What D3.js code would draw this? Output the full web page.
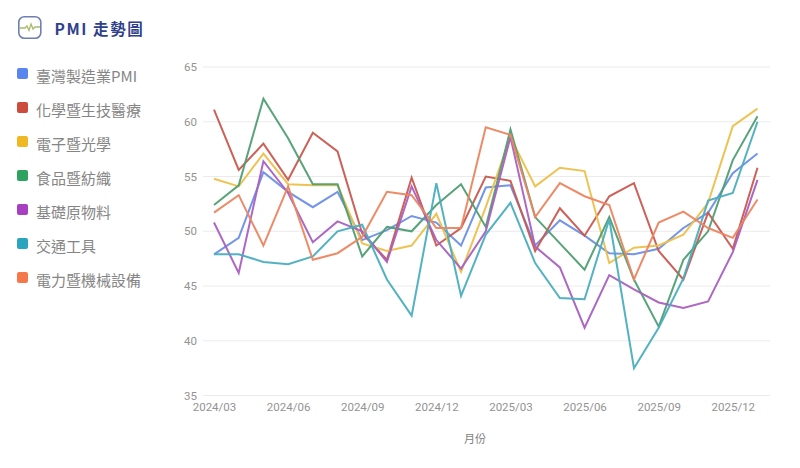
<!DOCTYPE html>
<html>
<head>
<meta charset="utf-8">
<script src="https://cdn.jsdelivr.net/npm/d3@7"></script>
<style>
  html, body { margin: 0; padding: 0; background: #fff; }
  svg { display: block; }
  text { font-family: Roboto, "Noto Sans CJK TC", sans-serif; }
  .legend text { font-family: "Noto Sans CJK TC", sans-serif; font-size: 15px; fill: #858585; }
  .tick text { font-size: 11.5px; fill: #939393; }
</style>
</head>
<body>
<div id="chart"></div>
<script>
var months = ["2024/03","2024/04","2024/05","2024/06","2024/07","2024/08","2024/09","2024/10","2024/11","2024/12",
  "2025/01","2025/02","2025/03","2025/04","2025/05","2025/06","2025/07","2025/08","2025/09","2025/10","2025/11","2025/12","2026/01"];
var tickMonths = ["2024/03","2024/06","2024/09","2024/12","2025/03","2025/06","2025/09","2025/12"];
var yTicks = [35, 40, 45, 50, 55, 60, 65];

var names = ["臺灣製造業PMI","化學暨生技醫療","電子暨光學","食品暨紡織","基礎原物料","交通工具","電力暨機械設備"];
var swatchColors = ["#5b85ee","#cc4b3d","#f0b923","#2ea35f","#a63fc0","#2aa5c0","#f5774a"];
var lineColors = ["#6b8fe6","#c8594f","#edc04a","#4f9e72","#a860c0","#4aaebf","#ec8560"];

var pmi = [47.9,49.4,55.4,53.6,52.2,53.6,49.2,50.1,51.4,50.8,48.7,54.0,54.2,48.7,51.0,49.6,48.0,47.9,48.4,50.3,51.7,55.3,57.1];
var chem = [61.1,55.6,58.0,54.7,59.0,57.3,49.8,47.4,54.9,48.7,50.3,55.0,54.6,48.2,52.1,49.6,53.2,54.4,48.2,45.6,51.7,48.4,55.8];
var elec = [54.8,54.1,57.1,54.3,54.2,54.2,48.9,48.2,48.7,51.6,46.3,52.2,58.6,54.1,55.8,55.5,47.1,48.5,48.7,49.7,52.6,59.6,61.2];
var food = [52.4,54.2,62.1,58.5,54.3,54.3,47.7,50.4,50.0,52.4,54.3,50.4,59.3,51.3,48.9,46.5,51.3,45.6,41.3,47.4,50.0,56.5,60.5];
var basic = [50.8,46.2,56.4,53.5,49.0,50.9,50.0,47.2,54.1,49.2,46.6,50.0,58.6,48.6,46.7,41.2,46.0,44.7,43.5,43.0,43.6,48.1,54.7];
var trans = [47.9,47.9,47.2,47.0,47.7,50.0,50.6,45.6,42.3,54.4,44.1,49.7,52.6,47.1,43.9,43.8,51.1,37.5,41.2,45.7,52.8,53.5,60.0];
var power = [51.7,53.3,48.7,54.1,47.4,48.0,49.5,53.6,53.3,50.3,50.3,59.5,58.8,51.3,54.4,53.2,52.4,45.6,50.8,51.8,50.3,49.4,52.9];
var series = [pmi, chem, elec, food, basic, trans, power];

var width = 800, height = 468;

var svg = d3.select("#chart").append("svg")
  .attr("width", width)
  .attr("height", height);

var x = d3.scalePoint().domain(months).range([214, 757.5]);
var y = d3.scaleLinear().domain([35, 65]).range([395.6, 67]);

// ---- header icon and title
var icon = svg.append("g").attr("transform", "translate(18,16)");
icon.append("rect")
  .attr("x", 0.8).attr("y", 0.8)
  .attr("width", 22).attr("height", 21.5).attr("rx", 5.5)
  .attr("fill", "none").attr("stroke", "#6f7fb5").attr("stroke-width", 1.6);
icon.append("path")
  .attr("d", "M1,12 H7 L9,10 L11,14.5 L13,8 L15,13 L17,11 H22")
  .attr("fill", "none").attr("stroke", "#a9bb6b").attr("stroke-width", 1.3);

svg.append("text")
  .attr("x", 54.5).attr("y", 35)
  .attr("font-size", 15.5).attr("font-weight", 700)
  .attr("letter-spacing", 1.6)
  .attr("fill", "#2f3f8c")
  .style("font-family", "'Noto Sans CJK TC', sans-serif")
  .text("PMI 走勢圖");

// ---- legend
var legend = svg.append("g").attr("class", "legend");
var rows = legend.selectAll("g").data(names).enter().append("g")
  .attr("transform", function (d, i) { return "translate(17," + (68 + i * 34) + ")"; });
rows.append("rect")
  .attr("width", 11).attr("height", 11).attr("rx", 2)
  .attr("fill", function (d, i) { return swatchColors[i]; });
rows.append("text")
  .attr("x", 19).attr("y", 14)
  .text(function (d) { return d; });

// ---- axes
var yAxis = d3.axisLeft(y).tickValues(yTicks).tickSize(0).tickPadding(0);
var yG = svg.append("g").attr("transform", "translate(197,0)").call(yAxis);
yG.select(".domain").remove();

svg.append("g").selectAll("line").data(yTicks).enter().append("line")
  .attr("x1", 203).attr("x2", 770)
  .attr("y1", function (d) { return y(d); })
  .attr("y2", function (d) { return y(d); })
  .attr("stroke", "#ebebeb")
  .attr("stroke-width", 1);

var xAxis = d3.axisBottom(x).tickValues(tickMonths).tickSize(0).tickPadding(0);
var xG = svg.append("g").attr("transform", "translate(0,403)").call(xAxis);
xG.select(".domain").remove();

svg.append("text")
  .attr("x", 475).attr("y", 443)
  .attr("text-anchor", "middle")
  .attr("font-size", 11).attr("fill", "#7d7d7d")
  .style("font-family", "'Noto Sans CJK TC', sans-serif")
  .text("月份");

// ---- lines
var line = d3.line()
  .x(function (d, i) { return x(months[i]); })
  .y(function (d) { return y(d); });

svg.append("g").selectAll("path").data(series).enter().append("path")
  .attr("d", line)
  .attr("fill", "none")
  .attr("stroke", function (d, i) { return lineColors[i]; })
  .attr("stroke-width", 2)
  .attr("stroke-opacity", 0.95);
</script>
</body>
</html>
